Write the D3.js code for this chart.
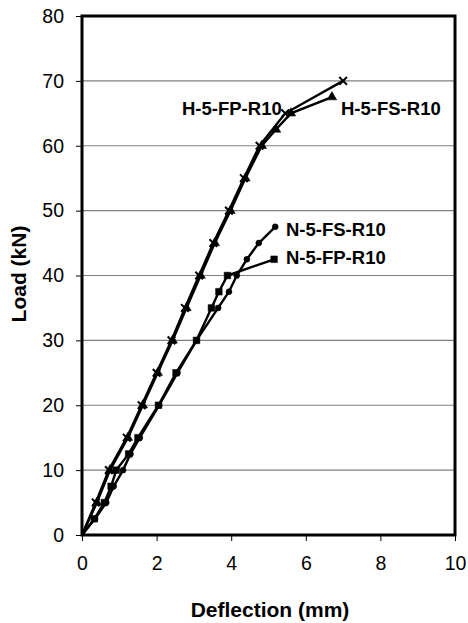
<!DOCTYPE html>
<html><head><meta charset="utf-8">
<script src="https://cdn.jsdelivr.net/npm/d3@7"></script>
<style>body{margin:0;background:#fff;} svg{display:block;font-family:"Liberation Sans",Arial,sans-serif;}</style>
</head><body><div id="chart"></div>
<script>
const xTicks = [0, 2, 4, 6, 8, 10];
const yTicks = [0, 10, 20, 30, 40, 50, 60, 70, 80];

const hFP_x = [0, 0.37, 0.72, 1.2, 1.6, 2.0, 2.4, 2.76, 3.14, 3.52, 3.94, 4.34, 4.76, 5.45, 7.0];
const hFP_y = [0, 5, 10, 15, 20, 25, 30, 35, 40, 45, 50, 55, 60, 65, 70];

const hFS_x = [0, 0.4, 0.75, 1.23, 1.63, 2.03, 2.43, 2.8, 3.18, 3.56, 3.98, 4.38, 4.82, 5.2, 5.6, 6.7];
const hFS_y = [0, 5, 10, 15, 20, 25, 30, 35, 40, 45, 50, 55, 60, 62.5, 65, 67.5];

const nFS_x = [0, 0.35, 0.65, 0.85, 1.1, 1.3, 1.55, 2.07, 2.56, 3.07, 3.65, 3.94, 4.15, 4.42, 4.74, 5.18];
const nFS_y = [0, 2.5, 5, 7.5, 10, 12.5, 15, 20, 25, 30, 35, 37.5, 40, 42.5, 45, 47.5];

const nFP_x = [0, 0.33, 0.6, 0.78, 0.92, 1.25, 1.5, 2.05, 2.52, 3.07, 3.47, 3.67, 3.9, 5.15];
const nFP_y = [0, 2.5, 5, 7.5, 10, 12.5, 15, 20, 25, 30, 35, 37.5, 40, 42.5];

const seriesNames = ["H-5-FP-R10", "H-5-FS-R10", "N-5-FS-R10", "N-5-FP-R10"];

const W = 468, H = 623;
const m = {left: 82, right: 13, top: 16, bottom: 88};
const svg = d3.select("#chart").append("svg").attr("width", W).attr("height", H);

const x = d3.scaleLinear().domain([0, 10]).range([m.left, W - m.right]);
const y = d3.scaleLinear().domain([0, 80]).range([H - m.bottom, m.top]);

// gridlines
svg.append("g").selectAll("line").data(yTicks.filter(d => d > 0 && d < 80)).join("line")
  .attr("x1", x(0)).attr("x2", x(10)).attr("y1", d => y(d)).attr("y2", d => y(d))
  .attr("stroke", "#808080").attr("stroke-width", 1.2);

// axes
const xAxis = svg.append("g").attr("transform", `translate(0,${y(0)})`)
  .call(d3.axisBottom(x).tickValues(xTicks).tickFormat(d3.format("d")).tickSize(6).tickPadding(15));
const yAxis = svg.append("g").attr("transform", `translate(${x(0)},0)`)
  .call(d3.axisLeft(y).tickValues(yTicks).tickFormat(d3.format("d")).tickSize(6).tickPadding(12));
[xAxis, yAxis].forEach(a => {
  a.select(".domain").remove();
  a.selectAll("line").attr("stroke", "#000").attr("stroke-width", 1);
  a.selectAll("text").attr("font-size", 19.5).attr("fill", "#000").attr("font-family", "Liberation Sans, Arial, sans-serif");
});

function pts(xs, ys) { return xs.map((v, i) => [v, ys[i]]); }
const line = d3.line().x(d => x(d[0])).y(d => y(d[1]));

const series = [
  {data: pts(hFP_x, hFP_y), marker: "star"},
  {data: pts(hFS_x, hFS_y), marker: "tri"},
  {data: pts(nFS_x, nFS_y), marker: "circle"},
  {data: pts(nFP_x, nFP_y), marker: "square"}
];

const sym = {
  star: d3.symbol().type(d3.symbolX).size(40),
  tri: d3.symbol().type(d3.symbolTriangle).size(40),
  circle: d3.symbol().type(d3.symbolCircle).size(28),
  square: d3.symbol().type(d3.symbolSquare).size(44)
};

series.forEach(s => {
  svg.append("path").datum(s.data).attr("d", line)
    .attr("fill", "none").attr("stroke", "#000").attr("stroke-width", 2.4);
  svg.append("g").selectAll("path").data(s.data.slice(1)).join("path")
    .attr("transform", d => `translate(${x(d[0])},${y(d[1])})`)
    .attr("d", sym[s.marker])
    .attr("fill", "#000").attr("stroke", "#000").attr("stroke-width", s.marker === "star" ? 2 : 0.5);
});

// frame
svg.append("rect").attr("x", x(0)).attr("y", y(80)).attr("width", x(10) - x(0)).attr("height", y(0) - y(80))
  .attr("fill", "none").attr("stroke", "#000").attr("stroke-width", 3);

// series labels
const labelPos = [
  {x: 182, y: 109, name: seriesNames[0]},
  {x: 341, y: 109, name: seriesNames[1]},
  {x: 286, y: 230, name: seriesNames[2]},
  {x: 286, y: 258, name: seriesNames[3]}
];
svg.append("g").selectAll("text").data(labelPos).join("text")
  .attr("x", d => d.x).attr("y", d => d.y).attr("dy", "0.35em")
  .attr("font-size", 18.5).attr("font-weight", "bold").attr("fill", "#000")
  .text(d => d.name);

// axis titles
svg.append("text").attr("x", 270).attr("y", 617)
  .attr("text-anchor", "middle").attr("font-size", 21).attr("font-weight", "bold").text("Deflection (mm)");
svg.append("text").attr("transform", `translate(26,274) rotate(-90)`)
  .attr("text-anchor", "middle").attr("font-size", 21).attr("font-weight", "bold").text("Load (kN)");
</script>
</body></html>
